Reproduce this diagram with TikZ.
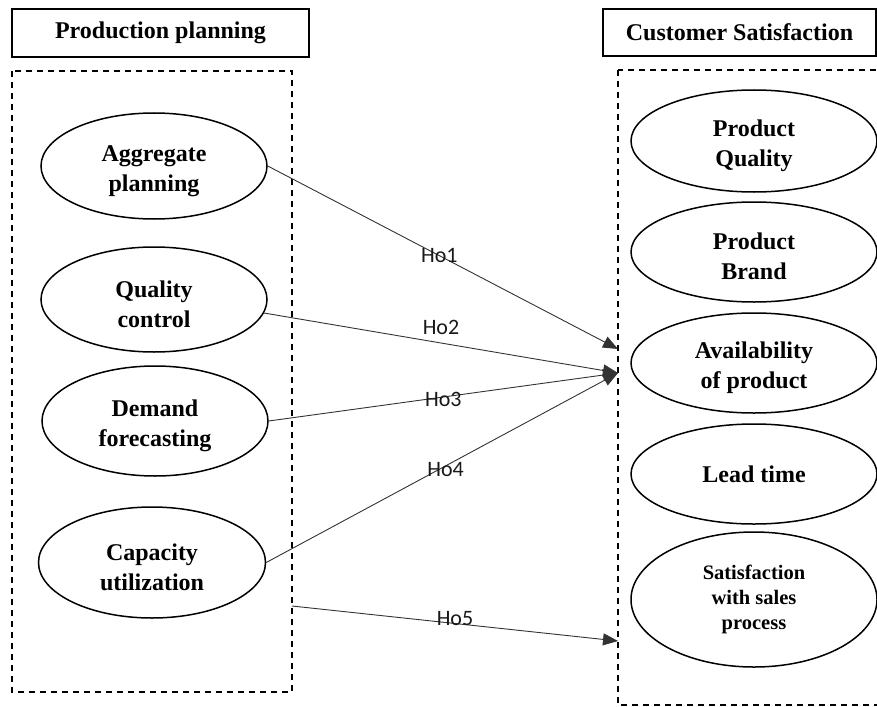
\documentclass[tikz,border=0pt]{standalone}
\usepackage{fontspec}
\setmainfont{Liberation Serif}
\newfontfamily\lblfont{Carlito}
\usetikzlibrary{shapes.geometric,arrows.meta}
\begin{document}
\begin{tikzpicture}[x=1pt,y=-1pt,
  titlebox/.style={draw,line width=1.5pt,inner sep=0pt,font=\bfseries\fontsize{24}{28}\selectfont},
  dashbox/.style={draw,line width=1.5pt,dash pattern=on 6pt off 5pt},
  oval/.style={draw,ellipse,line width=1.5pt,inner sep=0pt,align=center,font=\bfseries\fontsize{24}{30}\selectfont},
  smalloval/.style={oval,font=\bfseries\fontsize{20.5}{25}\selectfont},
  conn/.style={draw=black!80,line width=0.9pt,-{Triangle[length=15pt,width=12pt]}},
  lbl/.style={font=\lblfont\fontsize{22}{24}\selectfont,text=black!90,inner sep=0pt}]
\useasboundingbox (0,0) rectangle (877,706);
% title boxes
\node[titlebox,minimum width=297pt,minimum height=48pt] (tl) at (160.5,33) {Production planning};
\node[titlebox,minimum width=273pt,minimum height=47pt] (tr) at (739.5,32.5) {Customer Satisfaction};
% dashed boxes
\draw[dashbox] (12,71) rectangle (292,692);
\draw[dashbox] (618,70) rectangle (882,705);
% left ovals
\node[oval,minimum width=226pt,minimum height=106pt] (agg) at (154,166) {\rule{0pt}{26pt}Aggregate\\planning};
\node[oval,minimum width=226pt,minimum height=105pt] (qc) at (154,299.5) {\rule{0pt}{26pt}Quality\\control};
\node[oval,minimum width=226pt,minimum height=110pt] (df) at (155,421) {\rule{0pt}{26pt}Demand\\forecasting};
\node[oval,minimum width=227pt,minimum height=111pt] (cu) at (152,562.5) {\rule{0pt}{26pt}Capacity\\utilization};
% right ovals
\node[oval,minimum width=246pt,minimum height=102pt] (pq) at (754,141) {\rule{0pt}{26pt}Product\\Quality};
\node[oval,minimum width=246pt,minimum height=100pt] (pb) at (754,252) {\rule{0pt}{26pt}Product\\Brand};
\node[oval,minimum width=246pt,minimum height=100pt] (av) at (754,363) {\rule{0pt}{26pt}Availability\\of product};
\node[oval,minimum width=246pt,minimum height=100pt] (lt) at (754,474) {Lead time};
\node[smalloval,minimum width=246pt,minimum height=135pt] (ss) at (754,599.5) {Satisfaction\\with sales\\process};
% connector ends
\coordinate (t1) at (618,349);
\coordinate (t2) at (618,373);
\coordinate (t5) at (618,641);
\coordinate (s5) at (292,606);
% connectors
\draw[conn] (agg.east) -- node[lbl,pos=0.49] {Ho1} (t1);
\draw[conn] (qc.-7) -- node[lbl,pos=0.5,yshift=16pt] {Ho2} (t2);
\draw[conn] (df.east) -- node[lbl,pos=0.5,yshift=-2pt] {Ho3} (t2);
\draw[conn] (cu.east) -- node[lbl,pos=0.51,yshift=-4pt] {Ho4} (t2);
\draw[conn] (s5) -- node[lbl,pos=0.5,yshift=5pt] {Ho5} (t5);
\end{tikzpicture}
\end{document}
